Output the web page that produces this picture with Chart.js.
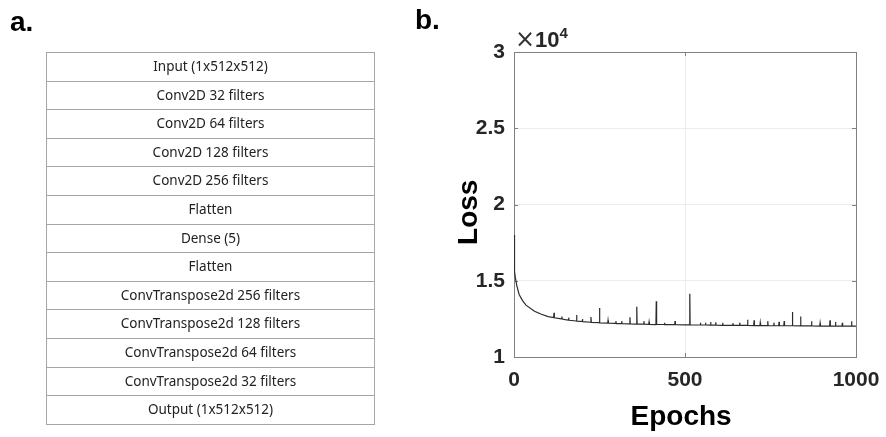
<!DOCTYPE html>
<html>
<head>
<meta charset="utf-8">
<script src="https://cdn.jsdelivr.net/npm/chart.js@4.4.1/dist/chart.umd.min.js"></script>
<style>
  html, body { margin: 0; padding: 0; background: #fff; }
  #wrap { position: relative; width: 886px; height: 437px; overflow: hidden; }
  #c { position: absolute; left: 0; top: 0; }
  .panel { position: absolute; font-family: "Liberation Sans", Arial, sans-serif; font-weight: bold; font-size: 28px; color: #000; }
  #tbl { position: absolute; left: 46px; top: 52px; width: 329px; border-collapse: collapse; font-family: "Noto Sans", sans-serif; font-size: 13.5px; color: #222; }
  #tbl td { border: 1px solid #a6a6a6; height: 27.6px; padding: 0; text-align: center; line-height: 1; }
  #mult { position: absolute; left: 515px; top: 25px; font-family: "Liberation Sans", Arial, sans-serif; color: #262626; white-space: nowrap; }
</style>
</head>
<body>
<div id="wrap">
  <canvas id="c" width="886" height="437"></canvas>
  <div class="panel" style="left:10px; top:6px;">a.</div>
  <div class="panel" style="left:415px; top:4px;">b.</div>
  <table id="tbl"></table>
  <div id="mult"><span style="font-size:24px;font-family:'DejaVu Sans';font-weight:normal;color:#333;">&times;</span><span style="font-size:22px;font-weight:bold;">10</span><sup style="font-size:15px;font-weight:bold;position:relative;top:-3px;">4</sup></div>
</div>
<script>
// Panel a: network layers
const layers = [
  "Input (1x512x512)",
  "Conv2D 32 filters",
  "Conv2D 64 filters",
  "Conv2D 128 filters",
  "Conv2D 256 filters",
  "Flatten",
  "Dense (5)",
  "Flatten",
  "ConvTranspose2d 256 filters",
  "ConvTranspose2d 128 filters",
  "ConvTranspose2d 64 filters",
  "ConvTranspose2d 32 filters",
  "Output (1x512x512)"
];

// Panel b: training loss
const epochs = [
  0, 1, 2, 4, 8, 15, 25, 35, 60, 80, 100,
  116, 117, 118, 139, 140, 141, 150, 159, 160, 161,
  182, 183, 184, 199, 200, 201, 224, 225, 226,
  249, 250, 251, 274, 275, 276, 297, 298, 299,
  314, 315, 316, 338, 339, 340, 358, 359, 360,
  379, 380, 381, 394, 395, 396, 415, 416, 417,
  439, 440, 441, 470, 471, 472, 500,
  513, 514, 515, 544, 545, 546, 559, 560, 561,
  574, 575, 576, 589, 590, 591, 609, 610, 611,
  639, 640, 641, 659, 660, 661, 682, 683, 684,
  701, 702, 703, 719, 720, 721, 741, 742, 743,
  759, 760, 761, 774, 775, 776, 789, 790, 791,
  813, 814, 815, 837, 838, 839, 869, 870, 871,
  894, 895, 896, 923, 924, 925, 939, 940, 941,
  959, 960, 961, 986, 987, 988, 1000
];
const loss = [
  18000, 16400, 15600, 15200, 14700, 14100, 13700, 13400, 13000, 12800, 12650,
  12580, 12900, 12570, 12500, 12650, 12490, 12450, 12420, 12580, 12410,
  12360, 12750, 12350, 12330, 12500, 12320, 12280, 12620, 12270,
  12250, 13220, 12240, 12220, 12400, 12220, 12200, 12350, 12190,
  12190, 12350, 12180, 12170, 12600, 12170, 12160, 13300, 12160,
  12150, 12350, 12150, 12140, 12300, 12140, 12130, 13650, 12130,
  12130, 12250, 12120, 12120, 12350, 12120, 12110,
  12110, 14150, 12110, 12100, 12250, 12100, 12100, 12250, 12100,
  12090, 12300, 12090, 12090, 12280, 12090, 12080, 12250, 12080,
  12080, 12220, 12080, 12070, 12250, 12070, 12070, 12450, 12070,
  12060, 12400, 12060, 12060, 12250, 12060, 12060, 12350, 12060,
  12050, 12250, 12050, 12050, 12300, 12050, 12050, 12350, 12050,
  12050, 12950, 12050, 12040, 12650, 12040, 12040, 12350, 12040,
  12030, 12220, 12030, 12030, 12400, 12030, 12030, 12300, 12030,
  12020, 12250, 12020, 12020, 12350, 12020, 12020
];
const xTicks = [0, 500, 1000];
const yTicks = [10000, 15000, 20000, 25000, 30000];

// build table
const tbl = document.getElementById('tbl');
layers.forEach(name => {
  const tr = document.createElement('tr');
  const td = document.createElement('td');
  td.textContent = name;
  tr.appendChild(td);
  tbl.appendChild(tr);
});

const AX = '#262626';
const boxPlugin = {
  id: 'boxPlugin',
  beforeDatasetsDraw(chart) {
    const {ctx, chartArea: a, scales} = chart;
    ctx.save();
    ctx.strokeStyle = '#808080';
    ctx.lineWidth = 1;
    ctx.strokeRect(Math.round(a.left) + 0.5, Math.round(a.top) + 0.5, Math.round(a.right - a.left), Math.round(a.bottom - a.top));
    const tl = 4;
    ctx.beginPath();
    xTicks.forEach(v => {
      const x = Math.round(scales.x.getPixelForValue(v)) + 0.5;
      ctx.moveTo(x, a.bottom); ctx.lineTo(x, a.bottom - tl);
      ctx.moveTo(x, a.top); ctx.lineTo(x, a.top + tl);
    });
    yTicks.forEach(v => {
      const y = Math.round(scales.y.getPixelForValue(v)) + 0.5;
      ctx.moveTo(a.left, y); ctx.lineTo(a.left + tl, y);
      ctx.moveTo(a.right, y); ctx.lineTo(a.right - tl, y);
    });
    ctx.stroke();
    ctx.restore();
  }
};

new Chart(document.getElementById('c'), {
  type: 'line',
  data: {
    datasets: [{
      data: epochs.map((e, i) => ({x: e, y: loss[i]})),
      borderColor: '#2b2b2b',
      borderWidth: 1.2,
      pointRadius: 0,
      tension: 0,
      fill: false
    }]
  },
  options: {
    responsive: false,
    animation: false,
    events: [],
    layout: { padding: { left: 444, right: 30, top: 52, bottom: 0 } },
    plugins: { legend: { display: false }, tooltip: { enabled: false } },
    scales: {
      x: {
        type: 'linear', min: 0, max: 1000,
        afterBuildTicks: s => { s.ticks = xTicks.map(v => ({value: v})); },
        afterFit: s => { s.height = 80; s.paddingLeft = 0; s.paddingRight = 0; },
        grid: { color: '#ececec', drawTicks: false },
        border: { display: false },
        ticks: { color: AX, padding: 11, font: { family: 'Liberation Sans', size: 21, weight: 'bold' }, maxRotation: 0, callback: v => String(v) },
        title: { display: true, text: 'Epochs ', color: '#000', padding: { top: 0, bottom: 3 }, font: { family: 'Liberation Sans', size: 28, weight: 'bold' } }
      },
      y: {
        type: 'linear', min: 10000, max: 30000,
        afterBuildTicks: s => { s.ticks = yTicks.map(v => ({value: v})); },
        afterFit: s => { s.width = 70; s.paddingTop = 0; s.paddingBottom = 0; },
        grid: { color: '#ececec', drawTicks: false },
        border: { display: false },
        ticks: { color: AX, padding: 9, font: { family: 'Liberation Sans', size: 21, weight: 'bold' }, callback: v => String(v / 10000) },
        title: { display: true, text: 'Loss  ', color: '#000', padding: { top: 8, bottom: 0 }, font: { family: 'Liberation Sans', size: 28, weight: 'bold' } }
      }
    }
  },
  plugins: [boxPlugin]
});
</script>
</body>
</html>
